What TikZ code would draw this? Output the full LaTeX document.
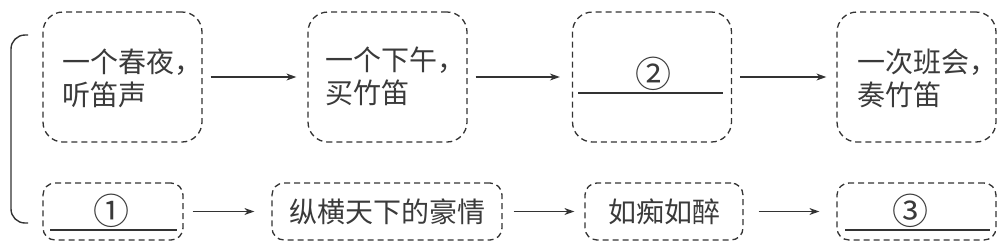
\documentclass[tikz,border=0pt]{standalone}
\usepackage{fontspec}
\newfontfamily\cjk{Noto Sans CJK SC}
\usetikzlibrary{arrows.meta}
\definecolor{lc}{HTML}{333333}
\definecolor{tc}{HTML}{3A3A3A}
\begin{document}
\begin{tikzpicture}[x=1pt,y=-1pt,
  boxline/.style={draw=lc, line width=1.3pt, dash pattern=on 6pt off 4pt},
  topbox/.style={boxline, rounded corners=20pt, minimum width=159pt, minimum height=130pt, inner sep=0pt},
  botbox/.style={boxline, rounded corners=12pt, minimum height=57pt, inner sep=0pt, font=\cjk\fontsize{28}{33}\selectfont, text=tc},
  txt/.style={font=\cjk\fontsize{28}{33}\selectfont, text=tc, align=left, anchor=west, inner sep=0pt},
  num/.style={font=\cjk\fontsize{36}{40}\selectfont, text=tc, inner sep=0pt},
  arr/.style={draw=lc, line width=1.2pt, -{Stealth[length=10pt,width=7pt]}},
  ul/.style={draw=lc, line width=1.5pt}]
\useasboundingbox (0,0) rectangle (1007,250);
% bracket
\draw[lc, line width=1.4pt, rounded corners=14pt] (28,35) -- (11,35) -- (11,223) -- (28,223);
% top boxes
\node[topbox] (t1) at (122.5,77) {};
\node[topbox] (t2) at (387.5,77) {};
\node[topbox] (t3) at (652,77) {};
\node[topbox] (t4) at (916.5,77) {};
\node[txt] (t1txt) at (62,78) {一个春夜，\\听笛声};
\node[txt] (t2txt) at (325,76) {一个下午，\\买竹笛};
\node[num] (t3txt) at (653,74) {②};
\draw[ul] (578,93) -- (723,93);
\node[txt] (t4txt) at (857,78) {一次班会，\\奏竹笛};
% bottom boxes
\node[botbox, minimum width=140pt] (b1) at (113,211.5) {};
\node[botbox, minimum width=230pt] (b2) at (387,211.5) {纵横天下的豪情};
\node[botbox, minimum width=158pt] (b3) at (664,211.5) {如痴如醉};
\node[botbox, minimum width=159pt] (b4) at (916.5,211.5) {};
\node[num] (b1txt) at (111,211) {①};
\node[num] (b4txt) at (910,211) {③};
\draw[ul] (50,230) -- (177,230);
\draw[ul] (845,230) -- (990,230);
% arrows
\draw[arr, shorten <=8pt, shorten >=11pt] (t1.east) -- (t2.west);
\draw[arr, shorten <=8pt, shorten >=12pt] (t2.east) -- (t3.west);
\draw[arr, shorten <=8pt, shorten >=10pt] (t3.east) -- (t4.west);
\draw[arr, shorten <=9pt, shorten >=17pt] (b1.east) -- (b2.west);
\draw[arr, shorten <=11pt, shorten >=10pt] (b2.east) -- (b3.west);
\draw[arr, shorten <=15pt, shorten >=17pt] (b3.east) -- (b4.west);
\end{tikzpicture}
\end{document}
